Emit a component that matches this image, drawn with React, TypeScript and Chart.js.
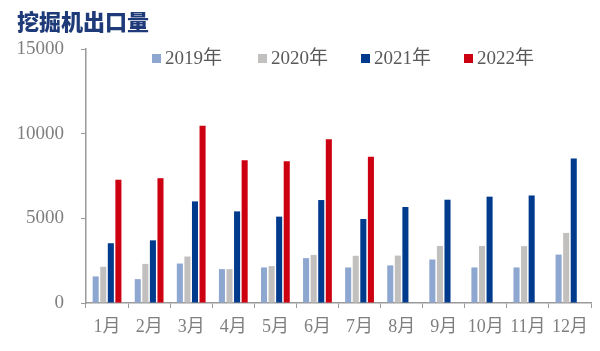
import React, { useEffect, useRef } from "react";
import { Chart, registerables } from "chart.js";

Chart.register(...registerables);

const title = "挖掘机出口量";
const months = ["1月", "2月", "3月", "4月", "5月", "6月", "7月", "8月", "9月", "10月", "11月", "12月"];
const seriesNames = ["2019年", "2020年", "2021年", "2022年"];
const y2019 = [1570, 1410, 2330, 2000, 2100, 2650, 2100, 2220, 2570, 2100, 2100, 2860];
const y2020 = [2140, 2310, 2745, 2000, 2180, 2840, 2790, 2800, 3370, 3370, 3360, 4140];
const y2021 = [3530, 3700, 6000, 5410, 5100, 6080, 4960, 5670, 6100, 6280, 6350, 8530];
const y2022 = [7280, 7370, 10470, 8430, 8370, 9670, 8630, null, null, null, null, null];
const yTicks = [0, 5000, 10000, 15000];
const colors = ["#8DA7D0", "#C2BFBF", "#003A8C", "#CC0010"];

const FONT = "'Liberation Serif', 'Noto Sans CJK SC', serif";

export default function App() {
  const ref = useRef<HTMLCanvasElement | null>(null);
  useEffect(() => {
    if (!ref.current) return;
    const overlay = {
      id: "overlay",
      afterDraw(chart: any) {
        const ctx = chart.ctx;
        ctx.save();
        ctx.fillStyle = "#1F3A78";
        ctx.font = "900 22px 'Noto Sans CJK SC', sans-serif";
        ctx.textBaseline = "middle";
        ctx.textAlign = "left";
        ctx.fillText(title, 17, 22);
        const xs = [152, 258, 361, 464];
        chart.data.datasets.forEach((ds: any, i: number) => {
          ctx.fillStyle = ds.backgroundColor;
          ctx.fillRect(xs[i], 54, 9, 9);
          ctx.fillStyle = "#595959";
          ctx.font = "19px " + FONT;
          ctx.textBaseline = "middle";
          ctx.fillText(ds.label, xs[i] + 13, 59);
        });
        ctx.restore();
      },
    };
    const datasets = [y2019, y2020, y2021, y2022].map((d, i) => ({
      label: seriesNames[i],
      data: d,
      backgroundColor: colors[i],
      categoryPercentage: 0.72,
      barPercentage: 0.8,
    }));
    const chart = new Chart(ref.current, {
      type: "bar",
      data: { labels: months, datasets },
      options: {
        animation: false,
        responsive: false,
        maintainAspectRatio: false,
        layout: { padding: { top: 49, right: 9, left: 0, bottom: 0 } },
        plugins: { legend: { display: false }, title: { display: false }, tooltip: { enabled: false } },
        scales: {
          x: {
            grid: { display: true, drawOnChartArea: false, drawTicks: true, tickLength: 5, color: "#9A9A9A", offset: true },
            border: { display: true, color: "#9A9A9A", width: 1.5 },
            ticks: { color: "#7F7F7F", font: { family: FONT, size: 18 }, padding: 8, maxRotation: 0, autoSkip: false },
            afterFit(scale: any) {
              scale.height = 351 - 303;
            },
          },
          y: {
            min: 0,
            max: 15000,
            afterBuildTicks(scale: any) {
              scale.ticks = yTicks.map((v) => ({ value: v }));
            },
            grid: { display: true, drawOnChartArea: false, drawTicks: true, tickLength: 5, color: "#9A9A9A" },
            border: { display: true, color: "#9A9A9A", width: 1.5 },
            ticks: {
              color: "#7F7F7F",
              font: { family: FONT, size: 19 },
              padding: 17,
              callback: (v: any) => String(v),
            },
            afterFit(scale: any) {
              scale.width = 86;
            },
          },
        },
      },
      plugins: [overlay],
    });
    return () => chart.destroy();
  }, []);
  return (
    <div style={{ position: "absolute", left: 0, top: 0, width: 600, height: 351, background: "#fff" }}>
      <canvas ref={ref} width={600} height={351} style={{ width: 600, height: 351 }} />
    </div>
  );
}
